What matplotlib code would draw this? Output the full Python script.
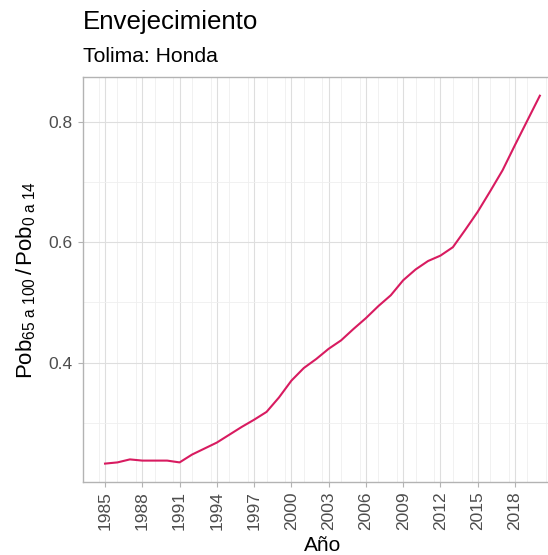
import matplotlib
matplotlib.use("Agg")
import matplotlib.pyplot as plt
from matplotlib.ticker import MultipleLocator

# Índice de envejecimiento, Honda (Tolima)
years = list(range(1985, 2021))
ratio = [0.232, 0.234, 0.239, 0.237, 0.237, 0.237, 0.234, 0.247, 0.257, 0.267,
         0.280, 0.293, 0.305, 0.318, 0.342, 0.370, 0.391, 0.406, 0.423, 0.437,
         0.456, 0.474, 0.494, 0.512, 0.537, 0.555, 0.569, 0.578, 0.592, 0.621,
         0.651, 0.685, 0.720, 0.762, 0.803, 0.844]
x_ticks = list(range(1985, 2019, 3))
y_ticks = [0.4, 0.6, 0.8]

title = "Envejecimiento"
subtitle = "Tolima: Honda"
xlabel = "Año"
ylabel = r"$\mathrm{Pob}_{\mathrm{65\ a\ 100}}\,/\,\mathrm{Pob}_{\mathrm{0\ a\ 14}}$"

plt.rcParams["font.family"] = ["Liberation Sans", "DejaVu Sans"]
plt.rcParams["mathtext.fontset"] = "custom"
plt.rcParams["mathtext.rm"] = "Liberation Sans"
plt.rcParams["mathtext.it"] = "Liberation Sans:italic"

W, H = 548, 555
fig = plt.figure(figsize=(W / 100, H / 100), dpi=100)
left, right, top, bottom = 83.3, 561.6, 77.3, 482.0
ax = fig.add_axes([left / W, 1 - bottom / H, (right - left) / W, (bottom - top) / H])

ax.plot(years, ratio, color="#D81B60", lw=1.5, solid_joinstyle="round", zorder=3)

span = max(ratio) - min(ratio)
ax.set_ylim(min(ratio) - 0.05 * span, max(ratio) + 0.05 * span)
ax.set_xlim(years[0] - 0.05 * (years[-1] - years[0]), years[-1] + 0.05 * (years[-1] - years[0]))

ax.set_xticks(x_ticks)
ax.set_xticklabels([str(y) for y in x_ticks], rotation=90)
ax.xaxis.set_minor_locator(MultipleLocator(1.5))
ax.set_yticks(y_ticks)
ax.set_yticklabels([f"{v:.1f}" for v in y_ticks])
ax.yaxis.set_minor_locator(MultipleLocator(0.1))

ax.grid(which="major", color="#DEDEDE", lw=0.8)
ax.grid(which="minor", color="#EFEFEF", lw=0.6)
ax.set_axisbelow(True)
for s in ax.spines.values():
    s.set_color("#B3B3B3")
    s.set_linewidth(1.0)

ax.tick_params(which="major", length=3.5, width=0.8, color="#B3B3B3",
               labelcolor="#4D4D4D", labelsize=12.5, pad=3)
ax.tick_params(axis="y", which="major", pad=4.5)
ax.tick_params(which="minor", length=0)

ax.set_xlabel(xlabel, fontsize=15, color="black", labelpad=4.5)
ax.set_ylabel(ylabel, fontsize=16, color="black", labelpad=7)

fig.text(83.3 / W, 1 - 29 / H, title, fontsize=18.6, color="black", ha="left", va="baseline")
fig.text(83.3 / W, 1 - 61.5 / H, subtitle, fontsize=15.2, color="black", ha="left", va="baseline")

fig.savefig("out.png", dpi=100)
